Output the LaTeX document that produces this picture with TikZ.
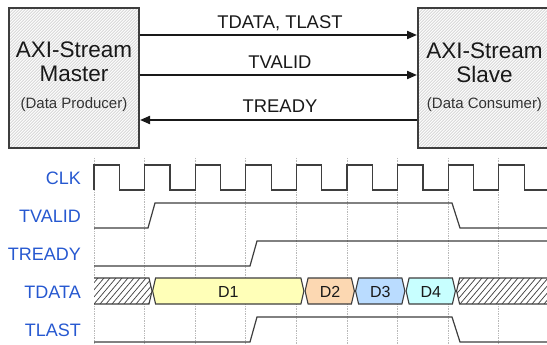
\documentclass[tikz,border=0pt]{standalone}
\usepackage{fontspec}
\setmainfont{Liberation Sans}
\usetikzlibrary{arrows.meta}

\definecolor{lbl}{RGB}{38,88,208}
\definecolor{edge}{RGB}{62,62,62}
\definecolor{boxfill}{RGB}{216,216,216}
\definecolor{cellA}{RGB}{255,255,184}
\definecolor{cellB}{RGB}{252,216,178}
\definecolor{cellC}{RGB}{186,220,255}
\definecolor{cellD}{RGB}{200,255,255}
\definecolor{gridc}{RGB}{185,185,185}

\begin{document}
\begin{tikzpicture}[x=1pt,y=-1pt,
  blockbox/.style={draw=edge, line width=2pt, fill=boxfill, inner sep=0pt,
    minimum width=130pt, minimum height=140.3pt,
    path picture={
      \foreach \i in {0,3,...,300}
        \draw[white, line width=0.9pt]
          ([xshift=\i pt-160pt]path picture bounding box.south west) -- ++(160pt,160pt);
    }},
  title/.style={font=\fontsize{22.5}{24}\selectfont, anchor=base, inner sep=0pt, text=black!90},
  role/.style={font=\fontsize{15}{17}\selectfont, anchor=base, inner sep=0pt, text=black!80},
  link/.style={line width=2pt, draw=black!90, -{Triangle[length=10pt,width=8pt]}},
  linklabel/.style={font=\fontsize{18.4}{20}\selectfont, anchor=base, inner sep=0pt, text=black!90},
  siglabel/.style={font=\fontsize{18}{20}\selectfont, text=lbl, anchor=base east, inner sep=0pt},
  wave/.style={draw=edge, line width=1.2pt, line join=miter},
  cell/.style={draw=edge, line width=1.1pt, line join=miter},
  celltext/.style={font=\fontsize{16}{18}\selectfont, anchor=base, inner sep=0pt, text=black!90},
  gridline/.style={draw=gridc, densely dotted, line width=0.7pt},
  hatchline/.style={draw=edge, line width=0.7pt}
]
\useasboundingbox (0,0) rectangle (547,345);
\clip (0,0) rectangle (547,345);

% ---------- interface blocks ----------
\node[blockbox] (master) at (74,78.2) {};
\node[blockbox] (slave) at (483,78.2) {};

\node[title] (mtitle) at (74,58) {AXI-Stream};
\node[title] (mname)  at (74,82) {Master};
\node[role]  (mrole)  at (74,109) {(Data Producer)};

\node[title] (stitle) at (484.5,58.5) {AXI-Stream};
\node[title] (sname)  at (484.5,83) {Slave};
\node[role]  (srole)  at (484.5,109) {(Data Consumer)};

% ---------- handshake signals ----------
\coordinate (yData)  at (0,35);
\coordinate (yValid) at (0,75);
\coordinate (yReady) at (0,120);
\draw[link] (master.east |- yData)  -- (slave.west |- yData);
\draw[link] (master.east |- yValid) -- (slave.west |- yValid);
\draw[link] (slave.west |- yReady)  -- (master.east |- yReady);
\node[linklabel] (ldata)  at (280,29)  {TDATA, TLAST};
\node[linklabel] (lvalid) at (280,69)  {TVALID};
\node[linklabel] (lready) at (280,113) {TREADY};

% ---------- timing diagram ----------
\foreach \k in {0,...,8}
  \draw[gridline] ({94+\k*50.6},158) -- ({94+\k*50.6},345);

\node[siglabel] (nclk)   at (81,184)   {CLK};
\node[siglabel] (nvalid) at (81,222.5) {TVALID};
\node[siglabel] (nready) at (81,260)   {TREADY};
\node[siglabel] (ndata)  at (81,298)   {TDATA};
\node[siglabel] (nlast)  at (81,336.5) {TLAST};

% clock
\draw[wave] (94,190) \foreach \k in {0,...,8} {
  -- ({94+\k*50.6},165) -- ({119.3+\k*50.6},165)
  -- ({119.3+\k*50.6},190) -- ({144.6+\k*50.6},190) };

% control lines
\draw[wave] (94,228) -- (148,228) -- (155,203) -- (452,203) -- (460,228) -- (550,228);
\draw[wave] (94,266) -- (250,266) -- (257,241) -- (550,241);
\draw[wave] (94,342) -- (250,342) -- (257,317) -- (452,317) -- (460,342) -- (550,342);

% data bus: idle (hatched) parts
\begin{scope}
  \clip (94,278) -- (149,278) -- (152,291) -- (149,304) -- (94,304) -- cycle;
  \fill[white] (90,270) rectangle (160,310);
  \foreach \i in {58,64,...,160} \draw[hatchline] (\i,304) -- ++(22,-26);
\end{scope}
\draw[cell] (94,278) -- (149,278) -- (152,291) -- (149,304) -- (94,304);

\begin{scope}
  \clip (552,278) -- (459.6,278) -- (456.6,291) -- (459.6,304) -- (552,304) -- cycle;
  \fill[white] (450,270) rectangle (560,310);
  \foreach \i in {430,436,...,560} \draw[hatchline] (\i,304) -- ++(22,-26);
\end{scope}
\draw[cell] (552,278) -- (459.6,278) -- (456.6,291) -- (459.6,304) -- (552,304);

% data bus: valid beats
\draw[cell, fill=cellA] (152.6,291) -- (155.6,278) -- (300.9,278) -- (303.9,291) -- (300.9,304) -- (155.6,304) -- cycle;
\draw[cell, fill=cellB] (305.1,291) -- (308.1,278) -- (351.4,278) -- (354.4,291) -- (351.4,304) -- (308.1,304) -- cycle;
\draw[cell, fill=cellC] (355.6,291) -- (358.6,278) -- (401.9,278) -- (404.9,291) -- (401.9,304) -- (358.6,304) -- cycle;
\draw[cell, fill=cellD] (406.1,291) -- (409.1,278) -- (452.4,278) -- (455.4,291) -- (452.4,304) -- (409.1,304) -- cycle;

\node[celltext] (d1) at (228.3,297.5) {D1};
\node[celltext] (d2) at (330,297.5)   {D2};
\node[celltext] (d3) at (380.3,297.5) {D3};
\node[celltext] (d4) at (430.8,297.5) {D4};
\end{tikzpicture}
\end{document}
